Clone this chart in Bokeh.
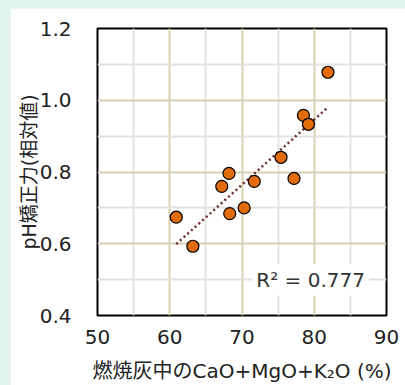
import numpy as np
from bokeh.plotting import figure
from bokeh.models import Label, Range1d, FixedTicker, CustomJSTickFormatter
from bokeh.embed import file_html
from bokeh.resources import INLINE

# data
ash_oxides = [81.9, 78.5, 79.2, 75.4, 77.2, 71.7, 68.2, 67.2, 70.3, 68.3, 60.9, 63.2]
ph_power = [1.078, 0.958, 0.933, 0.841, 0.782, 0.774, 0.796, 0.760, 0.700, 0.684, 0.674, 0.593]
x_ticks = [50, 60, 70, 80, 90]
y_ticks = [0.4, 0.6, 0.8, 1.0, 1.2]
r2_text = "R² = 0.777"

FONT = "DejaVu Sans, Noto Sans CJK JP"

p = figure(width=395, height=377, output_backend="svg", toolbar_location=None,
           x_range=Range1d(50, 90), y_range=Range1d(0.4, 1.2),
           min_border_left=87, min_border_right=19, min_border_top=20, min_border_bottom=62)
p.background_fill_color = "white"
p.border_fill_color = "white"
p.outline_line_color = "black"
p.outline_line_width = 2

p.xaxis.ticker = FixedTicker(ticks=x_ticks, minor_ticks=[55, 65, 75, 85])
p.yaxis.ticker = FixedTicker(ticks=y_ticks, minor_ticks=[0.5, 0.7, 0.9, 1.1])
p.yaxis.formatter = CustomJSTickFormatter(code="return tick.toFixed(1);")

for ax in (p.xaxis, p.yaxis):
    ax.axis_line_color = None
    ax.major_tick_line_color = None
    ax.minor_tick_line_color = None
    ax.major_label_text_font = FONT
    ax.major_label_text_font_size = "20px"
    ax.major_label_text_color = "#222222"
    ax.axis_label_text_font = FONT
    ax.axis_label_text_font_style = "normal"
    ax.axis_label_text_color = "#222222"

p.xaxis.major_label_standoff = 8
p.yaxis.major_label_standoff = 20
p.xaxis.axis_label = "燃焼灰中のCaO+MgO+K₂O (%)"
p.xaxis.axis_label_text_font_size = "20px"
p.xaxis.axis_label_standoff = 12
p.yaxis.axis_label = "pH矯正力(相対値)"
p.yaxis.axis_label_text_font_size = "19px"
p.yaxis.axis_label_standoff = -3

p.xgrid.grid_line_color = "#d8d0b0"
p.ygrid.grid_line_color = "#d8d0b0"
p.xgrid.grid_line_width = 2
p.ygrid.grid_line_width = 2
p.xgrid.minor_grid_line_color = "#e2e2e2"
p.ygrid.minor_grid_line_color = "#e2e2e2"
p.xgrid.minor_grid_line_width = 2
p.ygrid.minor_grid_line_width = 2

# linear trend line fitted to the data
xs = np.array(ash_oxides)
ys = np.array(ph_power)
k, b = np.polyfit(xs, ys, 1)
tx = [xs.min(), xs.max()]
p.line(tx, [k * v + b for v in tx], line_color="#6e2a2a", line_width=2.5,
       line_dash="2 3")

p.scatter(ash_oxides, ph_power, size=12, fill_color="#e36c0a", line_color="black",
          line_width=1.2)

lab = Label(x=79.5, y=0.5, text=r2_text, text_align="center", text_baseline="middle",
            text_font=FONT, text_font_size="20px", text_color="#333333",
            background_fill_color="white", padding=4)
p.add_layout(lab)

html = file_html(p, INLINE)
html = html.replace("</head>", "<style>html,body{background-color:#e0f3ec !important;} body{margin:8px 0 0 10px !important;}</style></head>", 1)
open("out.html", "w").write(html)
